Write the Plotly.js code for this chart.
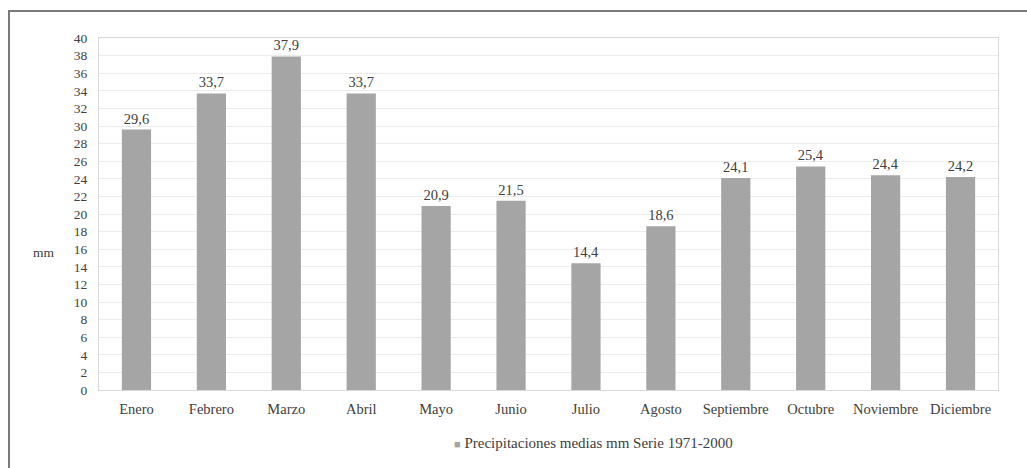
<!DOCTYPE html>
<html>
<head>
<meta charset="utf-8">
<script src="https://cdn.plot.ly/plotly-3.0.1.min.js"></script>
<style>
  html, body { margin: 0; padding: 0; background: #fff; }
  #wrap { position: relative; width: 1027px; height: 468px; overflow: hidden; }
  #chart { position: absolute; left: 0; top: 0; width: 1027px; height: 468px; }
  #frame { position: absolute; left: 8px; top: 10px; width: 1100px; height: 600px;
           border-top: 2px solid #7a7a7a; border-left: 2px solid #7a7a7a; pointer-events: none; }
</style>
</head>
<body>
<div id="wrap">
  <div id="chart"></div>
  <div id="frame"></div>
</div>
<script>
const months = ["Enero", "Febrero", "Marzo", "Abril", "Mayo", "Junio", "Julio", "Agosto", "Septiembre", "Octubre", "Noviembre", "Diciembre"];
const precip = [29.6, 33.7, 37.9, 33.7, 20.9, 21.5, 14.4, 18.6, 24.1, 25.4, 24.4, 24.2];
const seriesName = "Precipitaciones medias mm Serie 1971-2000";
const yTicks = [0,2,4,6,8,10,12,14,16,18,20,22,24,26,28,30,32,34,36,38,40];

const serif = "'Liberation Serif', 'Times New Roman', serif";
const barColor = "#a5a5a5";

const trace = {
  type: "bar",
  x: months,
  y: precip,
  name: seriesName,
  marker: { color: barColor },
  texttemplate: "%{y:.1f}",
  textposition: "outside",
  cliponaxis: false,
  textfont: { family: serif, size: 14.5, color: "#404040" },
  hoverinfo: "skip",
  showlegend: false
};

const layout = {
  width: 1027,
  height: 468,
  margin: { l: 99, r: 29, t: 38, b: 78 },
  paper_bgcolor: "#ffffff",
  plot_bgcolor: "#ffffff",
  separators: ",.",
  bargap: 0.61,
  showlegend: false,
  font: { family: serif, size: 14, color: "#404040" },
  xaxis: {
    type: "category",
    showline: true, mirror: true, linecolor: "#d9d9d9", linewidth: 1,
    showgrid: false, ticks: "",
    ticklabelstandoff: 6,
    tickfont: { family: serif, size: 14.5, color: "#404040" },
    fixedrange: true
  },
  yaxis: {
    range: [0, 40],
    tickvals: yTicks,
    ticktext: yTicks.map(String),
    showline: true, mirror: true, linecolor: "#d9d9d9", linewidth: 1,
    showgrid: true, gridcolor: "#ececec", gridwidth: 1,
    zeroline: false, ticks: "",
    ticklabelstandoff: 8,
    tickfont: { family: serif, size: 13.5, color: "#404040" },
    fixedrange: true
  },
  annotations: [
    {
      text: "mm", xref: "paper", yref: "paper",
      x: -0.061, y: 0.39, xanchor: "center", yanchor: "middle",
      showarrow: false, font: { family: serif, size: 13.5, color: "#404040" }
    },
    {
      text: '<span style="color:' + barColor + ';font-size:11px">■</span> ' + seriesName,
      xref: "paper", yref: "paper",
      x: 0.55, y: -0.15, xanchor: "center", yanchor: "middle",
      showarrow: false, font: { family: serif, size: 15, color: "#404040" }
    }
  ]
};

Plotly.newPlot("chart", [trace], layout, { displayModeBar: false, staticPlot: true });
</script>
</body>
</html>
